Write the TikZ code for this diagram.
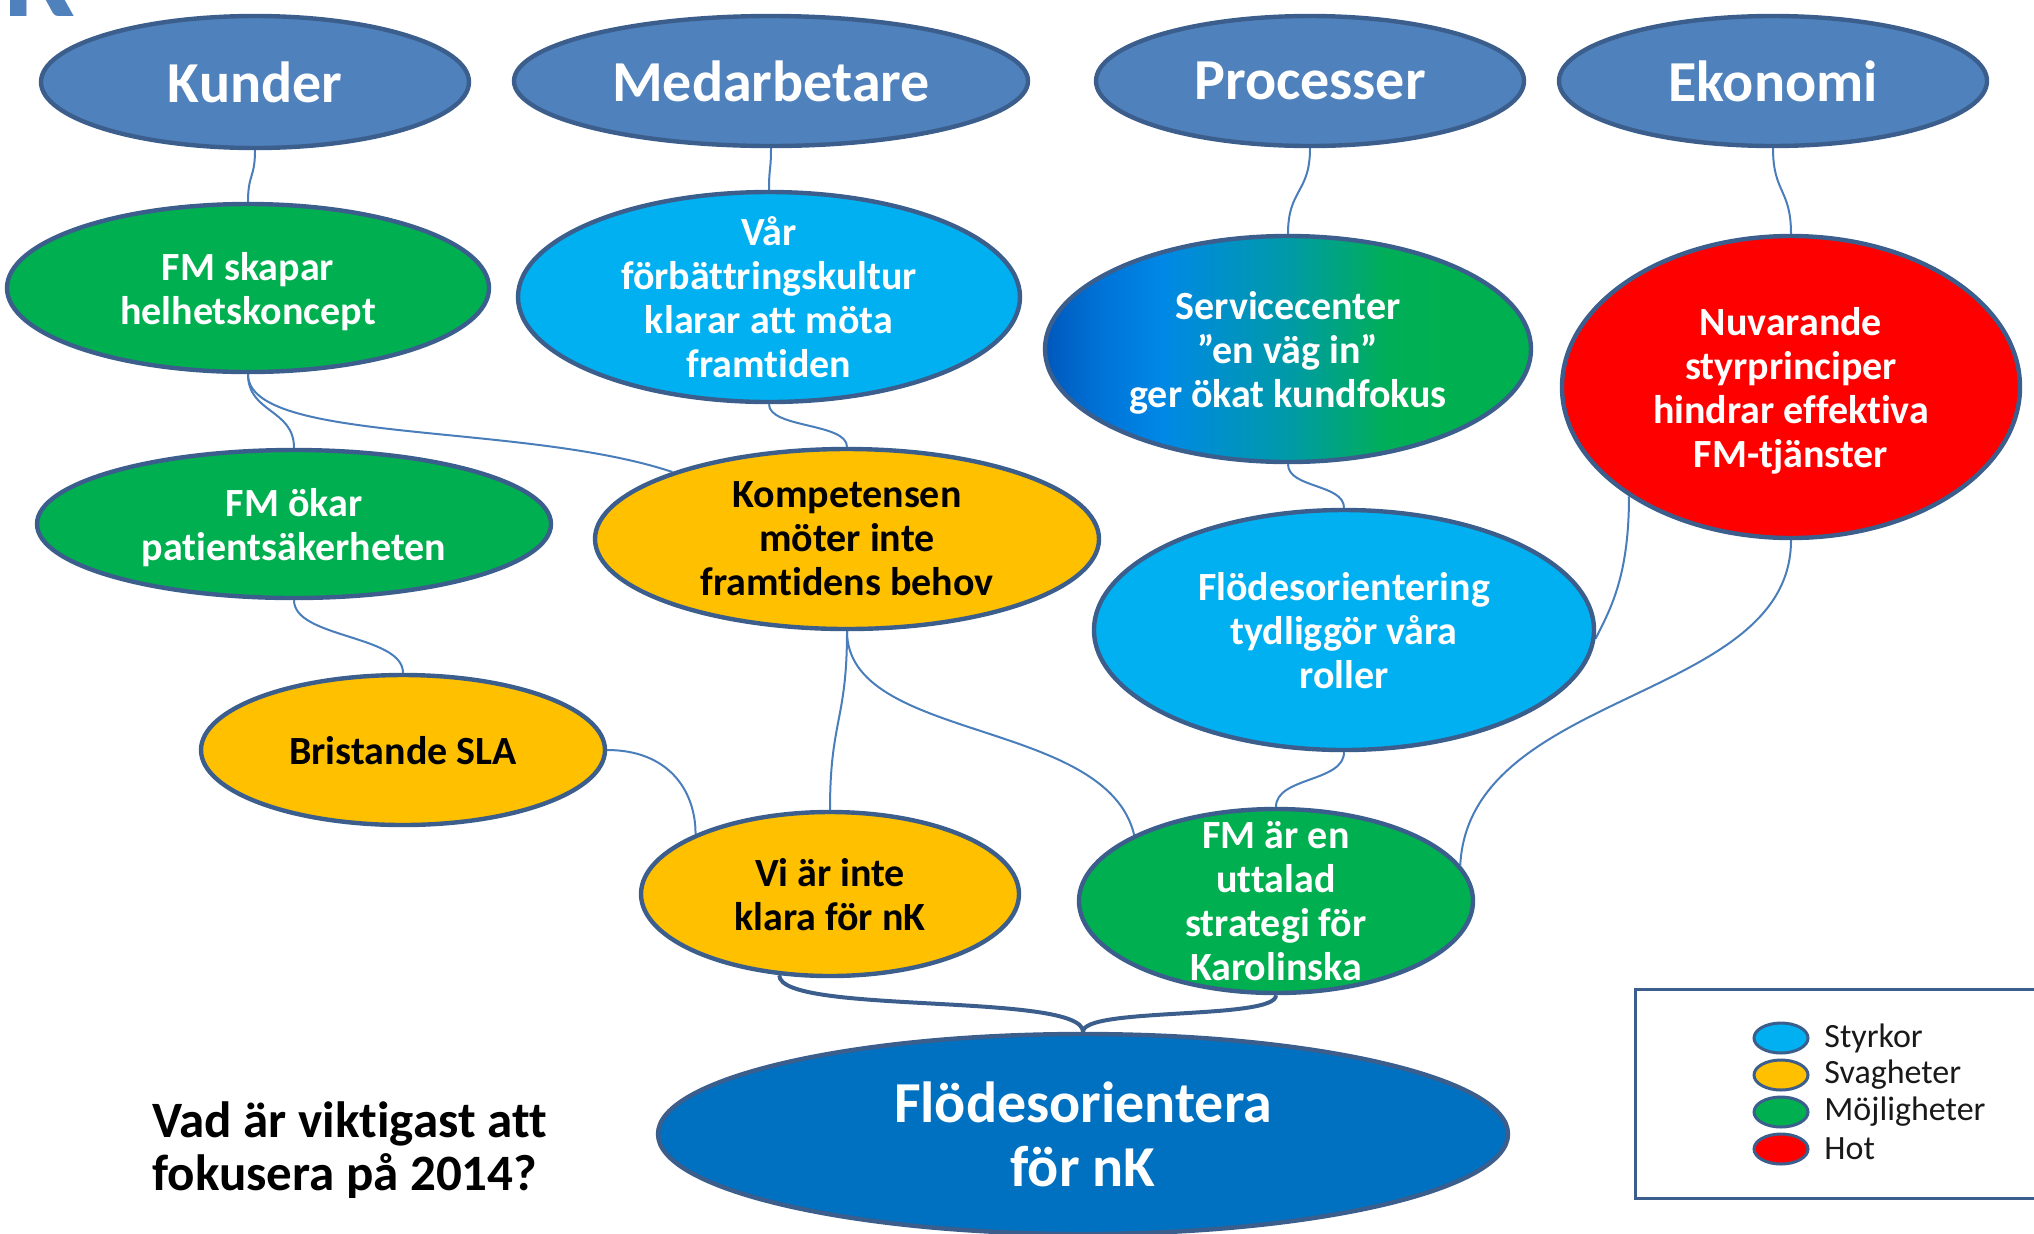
\documentclass[tikz,border=0pt]{standalone}
\usepackage{fontspec}
\setmainfont{Carlito}[Ligatures=NoCommon]
\usetikzlibrary{shapes.geometric,backgrounds}

\definecolor{headblue}{HTML}{4F81BD}
\definecolor{edgeblue}{HTML}{3B5E8C}
\definecolor{linkblue}{HTML}{4A7EBB}
\definecolor{strengthblue}{HTML}{00B0F0}
\definecolor{weakorange}{HTML}{FFC000}
\definecolor{chancegreen}{HTML}{00B050}
\definecolor{threatred}{HTML}{FF0000}
\definecolor{goalblue}{HTML}{0070C0}
\definecolor{svcA}{HTML}{0058BC}
\definecolor{svcB}{HTML}{0074D8}
\definecolor{svcC}{HTML}{0088E6}
\definecolor{svcD}{HTML}{009AA8}
\definecolor{svcE}{HTML}{00AE58}
\definecolor{svcF}{HTML}{00B050}

% left-to-right blend for the service centre oval
\pgfdeclarehorizontalshading{svcshade}{100bp}{%
  color(0bp)=(svcA); color(25bp)=(svcA); color(31bp)=(svcB); color(37bp)=(svcC);
  color(50bp)=(svcD); color(60bp)=(svcE); color(66bp)=(svcF); color(100bp)=(svcF)}

\tikzset{
  oval/.style={ellipse, draw=edgeblue, line width=2.2pt, inner sep=0pt},
  headoval/.style={oval, fill=headblue},
  strength/.style={oval, fill=strengthblue},
  weakness/.style={oval, fill=weakorange},
  chance/.style={oval, fill=chancegreen},
  threat/.style={oval, fill=threatred},
  goal/.style={oval, fill=goalblue},
  headtxt/.style={text=white, font=\bfseries\fontsize{29}{34}\selectfont, inner sep=0pt},
  lighttxt/.style={text=white, align=center, text depth=0pt, font=\bfseries\fontsize{20}{22}\selectfont, inner sep=0pt},
  darktxt/.style={text=black, align=center, text depth=0pt, font=\bfseries\fontsize{20}{22}\selectfont, inner sep=0pt},
  goaltxt/.style={text=white, align=center, font=\bfseries\fontsize{29}{32}\selectfont, inner sep=0pt},
  link/.style={draw=linkblue, line width=1pt},
  mainlink/.style={draw=edgeblue, line width=2pt},
  keyoval/.style={ellipse, draw=edgeblue, line width=1.5pt, inner sep=0pt, minimum width=27pt, minimum height=15pt},
  keytxt/.style={anchor=west, inner sep=0pt, text=black!90, font=\fontsize{17}{20}\selectfont},
}

\begin{document}
\begin{tikzpicture}[x=0.5pt,y=-0.5pt]
\useasboundingbox (0,0) rectangle (2034,1233);

% corner letter
\node[anchor=base west, inner sep=0pt, text=headblue, font=\bfseries\fontsize{64}{64}\selectfont] (logo) at (4,16) {K};

% perspective headings
\node[headoval, minimum width=214pt, minimum height=66pt] (kunder) at (255,82) {};
\node[headtxt] (kunder-t) at (kunder) {Kunder};
\node[headoval, minimum width=257pt, minimum height=65pt] (medarb) at (771,81) {};
\node[headtxt] (medarb-t) at (medarb) {Medarbetare};
\node[headoval, minimum width=214pt, minimum height=65pt] (proc) at (1310,81) {};
\node[headtxt] (proc-t) at (proc) {Processer};
\node[headoval, minimum width=214pt, minimum height=65pt] (ekon) at (1773,81) {};
\node[headtxt] (ekon-t) at (ekon) {Ekonomi};

% SWOT items
\node[chance, minimum width=241pt, minimum height=84pt] (fmskap) at (248,288) {};
\node[lighttxt] (fmskap-t) at (fmskap) {FM skapar\\helhetskoncept};
\node[strength, minimum width=251pt, minimum height=105pt] (var) at (769,297) {};
\node[lighttxt] (var-t) at (var) {Vår\\förbättringskultur\\klarar att möta\\framtiden};
\node[oval, shade, shading=svcshade, minimum width=243pt, minimum height=113pt] (serv) at (1288,349) {};
\node[lighttxt] (serv-t) at (serv) {Servicecenter\\”en väg in”\\ger ökat kundfokus};
\node[threat, minimum width=229pt, minimum height=151pt] (nuv) at (1791,387) {};
\node[lighttxt] (nuv-t) at (nuv) {Nuvarande\\styrprinciper\\hindrar effektiva\\FM-tjänster};
\node[chance, minimum width=257pt, minimum height=74pt] (fmokar) at (294,524) {};
\node[lighttxt] (fmokar-t) at (fmokar) {FM ökar\\patientsäkerheten};
\node[weakness, minimum width=252pt, minimum height=90pt] (komp) at (847,539) {};
\node[darktxt] (komp-t) at (komp) {Kompetensen\\möter inte\\framtidens behov};
\node[strength, minimum width=250pt, minimum height=120pt] (flodor) at (1344,630) {};
\node[lighttxt] (flodor-t) at (flodor) {Flödesorientering\\tydliggör våra\\roller};
\node[weakness, minimum width=202pt, minimum height=75pt] (brist) at (403,750) {};
\node[darktxt] (brist-t) at (brist) {Bristande SLA};
\node[weakness, minimum width=189pt, minimum height=82pt] (viar) at (830,894) {};
\node[darktxt] (viar-t) at (viar) {Vi är inte\\klara för nK};
\node[chance, minimum width=197pt, minimum height=92pt] (fmar) at (1276,901) {};
\node[lighttxt] (fmar-t) at (fmar) {FM är en\\uttalad\\strategi för\\Karolinska};
\node[goal, minimum width=425pt, minimum height=100pt] (goal) at (1083,1134) {};
\node[goaltxt] (goal-t) at (goal) {Flödesorientera\\för nK};

% question
\node[anchor=west, align=left, inner sep=0pt, font=\bfseries\fontsize{25.5}{26.5}\selectfont] (fraga) at (152,1150) {Vad är viktigast att\\fokusera på 2014?};

% legend
\node[draw=edgeblue, line width=1.5pt, minimum width=208pt, minimum height=104.5pt, inner sep=0pt, anchor=north west] (key) at (1634,988) {};
\node[keyoval, fill=strengthblue] (k1) at (1781,1038) {};
\node[keytxt] (k1-t) at (1824,1038) {Styrkor};
\node[keyoval, fill=weakorange] (k2) at (1781,1075) {};
\node[keytxt] (k2-t) at (1824,1075) {Svagheter};
\node[keyoval, fill=chancegreen] (k3) at (1781,1112) {};
\node[keytxt] (k3-t) at (1824,1112) {Möjligheter};
\node[keyoval, fill=threatred] (k4) at (1781,1149) {};
\node[keytxt] (k4-t) at (1824,1149) {Hot};

% connectors
\begin{scope}[on background layer]
\draw[link] (kunder.south) .. controls +(0,28) and +(0,-28) .. (fmskap.north);
\draw[link] (medarb.south) .. controls +(0,23) and +(0,-23) .. (var.north);
\draw[link] (proc.south) .. controls +(0,45) and +(0,-45) .. (serv.north);
\draw[link] (ekon.south) .. controls +(0,45) and +(0,-45) .. (nuv.north);
\draw[link] (fmskap.south) .. controls +(0,39) and +(0,-39) .. (fmokar.north);
\draw[link] (fmskap.south) .. controls +(0,70) and +(-150,-50) .. (komp.159);
\draw[link] (var.south) .. controls +(0,24) and +(0,-24) .. (komp.north);
\draw[link] (serv.south) .. controls +(0,24) and +(0,-24) .. (flodor.north);
\draw[link] (fmokar.south) .. controls +(0,38) and +(0,-38) .. (brist.north);
\draw[link] (brist.east) .. controls +(60,0) and +(0,-45) .. (viar.156);
\draw[link] (komp.south) .. controls +(0,90) and +(0,-90) .. (viar.north);
\draw[link] (komp.south) .. controls +(0,111) and +(-28,-117) .. (fmar.155);
\draw[link] (flodor.south) .. controls +(0,30) and +(0,-30) .. (fmar.north);
\draw[link] (nuv.214) .. controls +(0,80) and +(15,-30) .. (flodor.-2);
\draw[link] (nuv.south) .. controls +(0,162) and +(9,-176) .. (fmar.11);
\draw[mainlink] (viar.238) .. controls +(0,40) and +(0,-40) .. (goal.north);
\draw[mainlink] (fmar.south) .. controls +(0,25) and +(0,-25) .. (goal.north);
\end{scope}
\end{tikzpicture}
\end{document}
